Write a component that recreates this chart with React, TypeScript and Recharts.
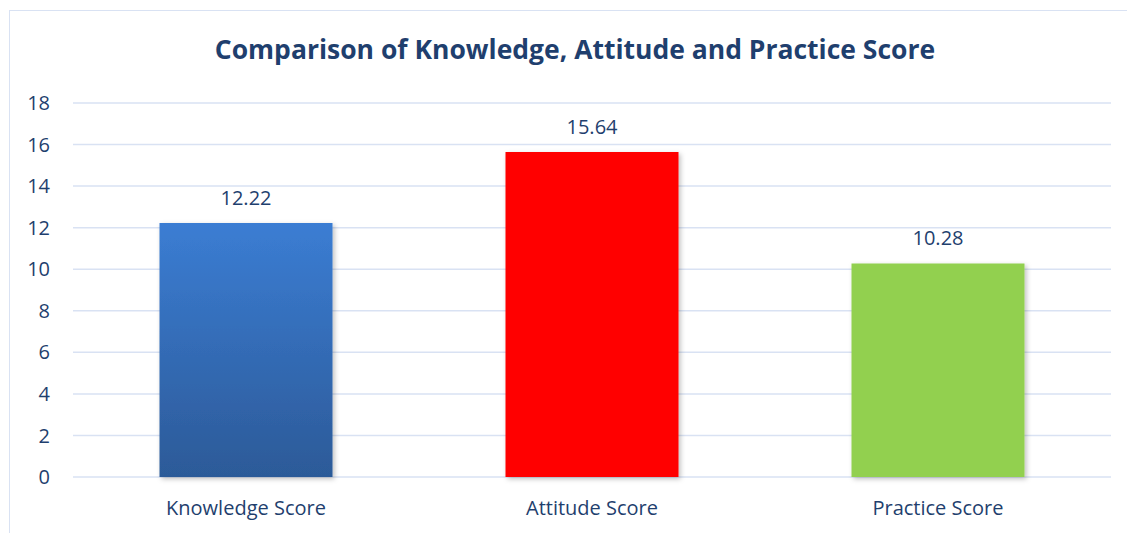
import { Bar, BarChart, CartesianGrid, Cell, LabelList, XAxis, YAxis } from "recharts"

const categories = ["Knowledge Score", "Attitude Score", "Practice Score"]
const scores = [12.22, 15.64, 10.28]
const yTicks = [0, 2, 4, 6, 8, 10, 12, 14, 16, 18]
const barFills = ["url(#knowGrad)", "#ff0000", "#92d050"]

const data = categories.map((name, i) => ({ name, score: scores[i] }))

const FONT = "'Open Sans', 'Noto Sans', sans-serif"
const TEXT = "#1f3f6e"

export default function App() {
  return (
    <div style={{ position: "absolute", left: 0, top: 0, width: 1127, height: 533, background: "#fff", fontFamily: FONT }}>
      <div
        style={{
          position: "absolute",
          left: 9,
          top: 10,
          width: 1127 - 9,
          height: 533 - 10,
          borderLeft: "1.5px solid #d9e2f3",
          borderTop: "1.5px solid #d9e2f3",
          boxSizing: "border-box",
        }}
      />
      <div
        style={{
          position: "absolute",
          left: 0,
          top: 31,
          width: 1150,
          textAlign: "center",
          fontSize: 26.5,
          fontWeight: 700,
          color: TEXT,
        }}
      >
        Comparison of Knowledge, Attitude and Practice Score
      </div>
      <div style={{ position: "absolute", left: 0, top: 0 }}>
        <BarChart
          width={1127}
          height={533}
          data={data}
          margin={{ top: 103, right: 16, left: 0, bottom: 20 }}
          barCategoryGap="25%"
        >
          <defs>
            <linearGradient id="knowGrad" x1="0" y1="0" x2="0" y2="1">
              <stop offset="0%" stopColor="#3b7dd3" />
              <stop offset="100%" stopColor="#2c5a98" />
            </linearGradient>
            <filter id="barShadow" x="-10%" y="-10%" width="125%" height="125%">
              <feDropShadow dx="2" dy="2" stdDeviation="2.5" floodColor="#000" floodOpacity="0.25" />
            </filter>
          </defs>
          <CartesianGrid vertical={false} stroke="#d9e2f3" strokeWidth={1.5} />
          <XAxis
            dataKey="name"
            height={36}
            axisLine={false}
            tickLine={false}
            tickSize={0}
            tickMargin={24}
            tick={{ fill: TEXT, fontSize: 20, fontFamily: FONT }}
          />
          <YAxis
            width={73}
            domain={[0, 18]}
            ticks={yTicks}
            axisLine={false}
            tickLine={false}
            tickSize={0}
            tickMargin={23}
            tick={{ fill: TEXT, fontSize: 20, fontFamily: FONT }}
          />
          <Bar dataKey="score" isAnimationActive={false} filter="url(#barShadow)">
            {data.map((d, i) => (
              <Cell key={d.name} fill={barFills[i]} />
            ))}
            <LabelList dataKey="score" position="top" offset={18} fill={TEXT} fontSize={20} fontFamily={FONT} />
          </Bar>
        </BarChart>
      </div>
    </div>
  )
}
